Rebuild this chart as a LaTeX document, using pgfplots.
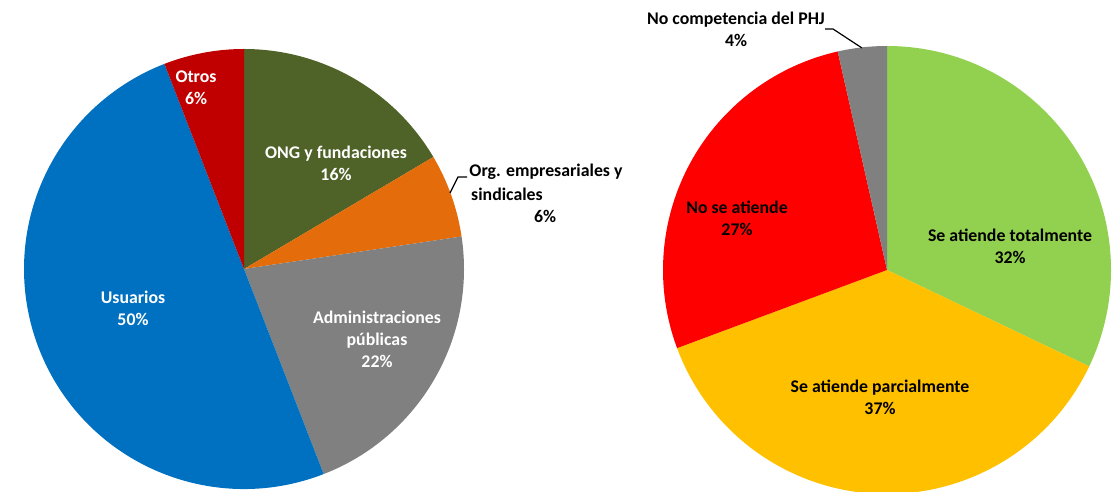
\documentclass[border=0pt]{standalone}
\usepackage{pgfplots}
\pgfplotsset{compat=1.18}
\usepackage{fontspec}
\setmainfont{Carlito}
\definecolor{cUsu}{HTML}{0070C0}
\definecolor{cOtr}{HTML}{C00000}
\definecolor{cONG}{HTML}{4F6228}
\definecolor{cOrg}{HTML}{E46C0A}
\definecolor{cAdm}{HTML}{808080}
\definecolor{cTot}{HTML}{92D050}
\definecolor{cPar}{HTML}{FFC000}
\definecolor{cNo}{HTML}{FF0000}
\definecolor{cNC}{HTML}{808080}
\tikzset{lab/.style={font=\fontsize{17.8}{22}\selectfont\bfseries, align=center, inner sep=0pt}}
% slice: center x, center y, radius, cumulative % start, cumulative % end, colour
\newcommand{\slice}[6]{%
  \fill[#6] (axis cs:#1,#2) -- ++({90-3.6*#4}:#3pt)
    arc[start angle={90-3.6*#4}, end angle={90-3.6*#5}, radius=#3pt] -- cycle;}
\begin{document}
\begin{tikzpicture}
\begin{axis}[
  scale only axis, width=1119pt, height=492pt,
  xmin=0, xmax=1119, ymin=0, ymax=492,
  hide axis, clip=false]
\addplot[draw=none] coordinates {(0,0) (1119,492)};
% Left pie: ONG 16.5, Org 6.14, Admin 21.46, Usuarios 50.01, Otros 5.89
\slice{244}{223}{220}{0}{16.5}{cONG}
\slice{244}{223}{220}{16.5}{22.64}{cOrg}
\slice{244}{223}{220}{22.64}{44.1}{cAdm}
\slice{244}{223}{220}{44.1}{94.11}{cUsu}
\slice{244}{223}{220}{94.11}{100}{cOtr}
% Right pie: Totalmente 32.08, Parcialmente 37.25, No 27.14, No competencia 3.53
\slice{887}{222}{224}{0}{32.08}{cTot}
\slice{887}{222}{224}{32.08}{69.33}{cPar}
\slice{887}{222}{224}{69.33}{96.47}{cNo}
\slice{887}{222}{224}{96.47}{100}{cNC}
% labels left
\node[lab, text=white] at (axis cs:196,404) {Otros\\6\%};
\node[lab, text=white] at (axis cs:336,329) {ONG y fundaciones\\16\%};
\node[lab, text=white] at (axis cs:377,153) {Administraciones\\públicas\\22\%};
\node[lab, text=white] at (axis cs:133,184) {Usuarios\\50\%};
\node[lab, text=black] at (axis cs:546,320) {Org. empresariales y};
\node[lab, text=black] at (axis cs:507,298) {sindicales};
\node[lab, text=black] at (axis cs:545,276) {6\%};
\draw[black, line width=1.2pt] (axis cs:450,299) -- (axis cs:458,315) -- (axis cs:467,315);
% labels right
\node[lab, text=black] at (axis cs:736,463) {No competencia del PHJ\\4\%};
\draw[black, line width=1.2pt] (axis cs:825,463) -- (axis cs:833,463) -- (axis cs:862,444);
\node[lab, text=black] at (axis cs:737,274) {No se atiende\\27\%};
\node[lab, text=black] at (axis cs:1010,246) {Se atiende totalmente\\32\%};
\node[lab, text=black] at (axis cs:880,95) {Se atiende parcialmente\\37\%};
\end{axis}
\pgfresetboundingbox
\path[use as bounding box] (current axis.south west) rectangle (current axis.north east);
\end{tikzpicture}
\end{document}
